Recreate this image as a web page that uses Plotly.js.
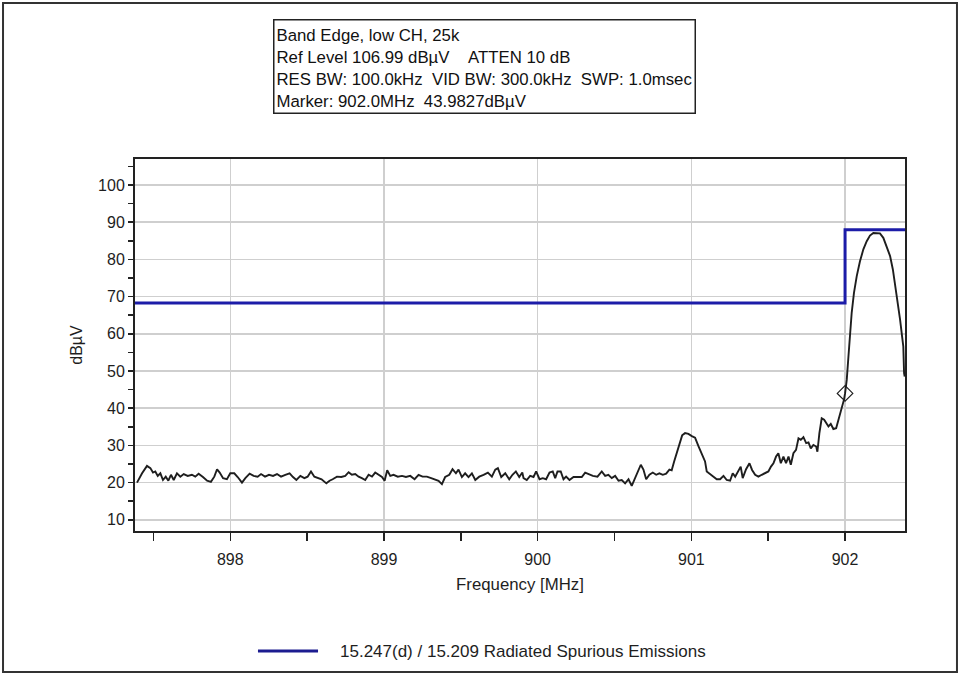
<!DOCTYPE html>
<html>
<head>
<meta charset="utf-8">
<script src="https://cdn.plot.ly/plotly-3.0.1.min.js"></script>
<style>html,body{margin:0;padding:0;background:#fff;}#chart{width:960px;height:675px;}</style>
</head>
<body>
<div id="chart"></div>
<script>
// Measured trace (frequency in MHz, level in dBµV)
var freqMHz = [
897.393,897.426,897.458,897.48,897.497,897.512,897.528,897.545,897.562,897.58,897.597,897.614,897.632,897.653,897.675,897.697,897.723,897.75,897.772,897.794,897.822,897.849,897.874,897.896,897.914,897.931,897.953,897.978,898.0,898.026,898.048,898.076,898.098,898.126,898.152,898.178,898.2,898.226,898.252,898.278,898.304,898.33,898.358,898.386,898.408,898.43,898.456,898.482,898.503,898.525,898.547,898.568,898.594,898.625,898.646,
898.666,898.694,898.722,898.748,898.77,898.791,898.813,898.835,898.856,898.878,898.9,898.922,898.943,898.965,898.987,899.004,899.021,899.041,899.062,899.09,899.117,899.143,899.171,899.199,899.225,899.251,899.279,899.307,899.333,899.355,899.377,899.398,899.425,899.446,899.468,899.485,899.507,899.528,899.55,899.572,899.594,899.62,899.648,899.676,899.702,899.724,899.741,899.763,899.789,899.815,899.836,899.858,899.88,899.9,
899.908,899.929,899.951,899.973,899.99,900.012,900.033,900.055,900.077,900.098,900.114,900.129,900.15,900.168,900.185,900.207,900.233,900.259,900.287,900.309,900.33,900.359,900.389,900.417,900.439,900.46,900.482,900.504,900.526,900.547,900.569,900.591,900.612,900.634,900.656,900.671,900.688,900.706,900.727,900.749,900.771,900.792,900.814,900.836,900.857,900.872,900.888,900.905,900.922,900.94,900.959,900.981,901.003,901.024,901.046,901.068,901.089,901.1,901.122,901.144,901.165,
901.187,901.209,901.23,901.252,901.269,901.285,901.306,901.321,901.334,901.356,901.378,901.395,901.415,901.436,901.458,901.48,901.501,901.518,901.534,901.551,901.566,901.582,901.599,901.616,901.632,901.647,901.664,901.681,901.697,901.712,901.729,901.747,901.762,901.777,901.794,901.812,901.82,901.833,901.848,901.864,901.877,901.892,901.907,901.924,901.942,901.957,901.978,901.993,902.0,902.011,902.022,902.032,902.043,902.058,902.076,902.097,902.119,902.141,902.162,902.184,902.206,902.227,902.249,902.271,902.293,902.311,902.327,902.341,902.358,902.371,902.379,902.384,902.388
];
var levelDbuV = [
20.0,22.5,24.5,23.9,22.7,23.0,21.8,22.5,20.7,21.6,20.5,22.1,20.7,22.5,21.6,22.3,21.8,22.1,21.6,22.4,21.5,20.5,20.2,21.6,23.6,22.7,21.2,20.9,22.5,22.5,21.5,20.0,21.2,22.4,21.8,21.6,22.3,21.6,22.1,21.8,22.3,21.6,22.1,22.5,21.5,20.7,21.8,21.2,21.6,23.0,21.6,21.2,20.9,19.8,20.5,
20.9,21.6,21.5,21.8,22.8,22.1,22.3,21.6,21.2,20.7,22.1,21.6,22.7,22.1,21.5,20.5,23.3,21.8,22.1,21.6,21.8,21.5,21.8,20.9,22.1,21.6,21.6,21.2,20.9,20.5,19.6,21.5,22.1,23.6,22.5,23.5,21.5,22.5,21.5,22.5,20.7,21.6,22.1,22.7,21.6,23.5,23.9,21.5,22.5,20.9,22.1,23.0,21.5,22.7,
21.2,20.7,21.8,21.5,23.0,20.9,21.2,20.9,22.7,23.0,21.2,23.0,23.0,20.9,21.6,20.7,21.5,21.5,21.5,22.7,22.4,21.8,21.6,23.0,21.8,22.1,21.2,21.8,20.5,20.7,19.8,20.9,19.1,21.2,23.0,24.8,23.5,20.9,22.1,22.7,22.1,22.5,22.1,22.4,23.5,23.3,25.7,28.0,30.7,32.7,33.3,33.1,32.5,32.1,29.8,27.5,25.7,23.0,22.4,21.6,20.9,
20.9,21.8,20.7,20.5,22.5,21.6,23.0,24.3,21.2,23.6,25.2,23.4,22.1,21.6,22.1,22.5,23.0,24.3,25.2,27.0,27.9,25.2,27.0,25.2,27.0,24.8,27.9,28.8,31.9,31.5,32.2,30.6,30.8,29.2,30.1,29.7,28.3,33.3,37.3,36.9,36.0,35.1,35.8,34.4,34.6,36.9,39.6,42.3,43.98,47.6,53.9,60.2,65.6,71.0,75.5,79.5,82.7,84.9,86.4,87.1,87.1,87.0,85.8,83.6,80.9,77.3,72.8,69.2,63.8,59.3,56.6,49.4,48.5
];
// Limit line 15.247(d) / 15.209
var limitFreqMHz = [897.38, 902.0, 902.39];
var limitDbuV = [68.3, 88.0, 88.0];
// Marker
var markerFreqMHz = [902.0];
var markerDbuV = [43.9827];

var infoLines = [
  'Band Edge, low CH, 25k',
  'Ref Level 106.99 dB\u00b5V\u00a0\u00a0\u00a0\u00a0ATTEN 10 dB',
  'RES BW: 100.0kHz\u00a0\u00a0VID BW: 300.0kHz\u00a0\u00a0SWP: 1.0msec',
  'Marker: 902.0MHz\u00a0\u00a043.9827dB\u00b5V'
];
var legendLabel = '15.247(d) / 15.209 Radiated Spurious Emissions';

var FONT = 'Liberation Sans, Arial, sans-serif';
var TXT = '#1e1e1e';

var traces = [
  {x: freqMHz, y: levelDbuV, type: 'scatter', mode: 'lines',
   line: {color: '#1e1e1e', width: 1.9}, showlegend: false, hoverinfo: 'skip'},
  {x: limitFreqMHz, y: limitDbuV, type: 'scatter', mode: 'lines',
   line: {color: '#1c1ca8', width: 3, shape: 'hv'}, name: legendLabel, showlegend: false},
  {x: markerFreqMHz, y: markerDbuV, type: 'scatter', mode: 'markers',
   marker: {symbol: 'diamond-open', size: 12, color: '#1e1e1e', line: {width: 1.2, color: '#1e1e1e'}},
   showlegend: false}
];

var layout = {
  width: 960, height: 675,
  margin: {l: 135, r: 55, t: 159, b: 144},
  paper_bgcolor: '#ffffff', plot_bgcolor: '#ffffff',
  font: {family: FONT, size: 16, color: TXT},
  showlegend: false,
  xaxis: {
    range: [897.38, 902.39], tickvals: [898, 899, 900, 901, 902],
    ticktext: ['898','899','900','901','902'],
    showgrid: true, gridcolor: '#cfcfcf', gridwidth: 1.5,
    showline: true, linecolor: '#222222', linewidth: 2, mirror: true,
    ticks: 'outside', ticklen: 8, tickwidth: 1.5, tickcolor: '#222222',
    ticklabelstandoff: 5,
    minor: {dtick: 0.5, tick0: 897.5, ticks: 'outside', ticklen: 8, tickwidth: 1.5, tickcolor: '#222222', showgrid: false},
    zeroline: false,
    tickfont: {family: FONT, size: 16, color: TXT},
    title: {text: 'Frequency [MHz]', font: {family: FONT, size: 16.8, color: TXT}, standoff: 11}
  },
  yaxis: {
    range: [6.99, 106.99], tickvals: [10,20,30,40,50,60,70,80,90,100],
    showgrid: true, gridcolor: '#cfcfcf', gridwidth: 1.5,
    showline: true, linecolor: '#222222', linewidth: 2, mirror: true,
    ticks: 'outside', ticklen: 5, tickwidth: 1.5, tickcolor: '#222222',
    minor: {dtick: 5, tick0: 5, ticks: 'outside', ticklen: 5, tickwidth: 1.5, tickcolor: '#222222', showgrid: false},
    zeroline: false,
    tickfont: {family: FONT, size: 16, color: TXT},
    title: {text: 'dB\u00b5V', font: {family: FONT, size: 16, color: TXT}, standoff: 11}
  },
  annotations: [
    {xref: 'paper', yref: 'paper', x: 0.1788, y: 1.376, xanchor: 'left', yanchor: 'top',
     text: infoLines.join('<br>'), showarrow: false, align: 'left', valign: 'bottom',
     width: 416, height: 88, borderpad: 2, bordercolor: '#222222', borderwidth: 1.5,
     bgcolor: '#ffffff', font: {family: FONT, size: 16.8, color: '#111111'}},
    {xref: 'paper', yref: 'paper', x: 0.2636, y: -0.3226, xanchor: 'left', yanchor: 'middle',
     text: legendLabel, showarrow: false, font: {family: FONT, size: 17, color: TXT}}
  ],
  shapes: [
    {type: 'line', xref: 'paper', yref: 'paper', x0: 0.1597, x1: 0.2377, y0: -0.3226, y1: -0.3226,
     line: {color: '#1c1c90', width: 3}},
    {type: 'rect', xref: 'paper', yref: 'paper', x0: -0.1714, x1: 1.0675, y0: -0.379, y1: 1.4194,
     line: {color: '#333333', width: 2}, fillcolor: 'rgba(0,0,0,0)'}
  ]
};

Plotly.newPlot('chart', traces, layout, {displayModeBar: false, staticPlot: true});
</script>
</body>
</html>
